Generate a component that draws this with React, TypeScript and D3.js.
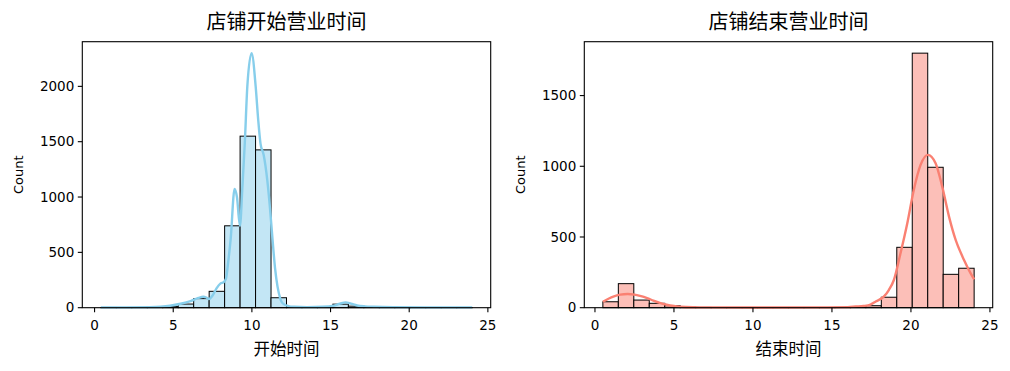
import React from "react";
import * as d3 from "d3";

// histogram bins: 24 equal bins from the data min to the data max
const startRange = [0.4, 24];
const startCounts = [2, 1, 1, 3, 10, 33, 82, 148, 740, 1550, 1426, 90, 4, 2, 2, 32, 14, 4, 2, 1, 1, 1, 1, 2];
const endRange = [0.5, 24];
const endCounts = [42, 170, 54, 31, 14, 4, 2, 1, 1, 1, 1, 1, 1, 1, 1, 2, 4, 14, 74, 427, 1800, 993, 236, 279];

// kde curves: [hour, count]
const startKde: [number, number][] = [
  [0.4, 3], [2, 3], [3.5, 5], [4.2, 9], [4.8, 18], [5.47, 36], [6.1, 60], [6.6, 88], [6.91, 99], [7.1, 92],
  [7.27, 78], [7.5, 110], [7.75, 175], [8.01, 220], [8.2, 230], [8.35, 260], [8.5, 420], [8.65, 620], [8.9, 1073],
  [9.05, 1000], [9.24, 740], [9.4, 1100], [9.55, 1490], [9.71, 2000], [9.98, 2300], [10.24, 2000], [10.4, 1700],
  [10.55, 1480], [10.75, 1380], [10.98, 1150], [11.15, 900], [11.31, 620], [11.47, 360], [11.63, 190], [11.8, 85],
  [11.95, 40], [12.3, 15], [12.69, 8], [13.5, 5], [14.5, 8], [15.2, 18], [15.6, 36], [15.96, 48], [16.3, 36],
  [16.69, 20], [17.2, 12], [17.75, 9], [19, 5], [21, 3], [24, 3],
];
const endKde: [number, number][] = [
  [0.5, 42], [1.16, 78], [1.6, 92], [2.07, 97], [2.5, 92], [2.85, 83], [3.3, 68], [3.7, 50], [4.1, 34], [4.54, 21],
  [5.0, 12], [5.39, 7], [6.2, 3], [7.5, 2], [10, 1], [14, 2], [16, 4], [16.5, 8], [17.0, 12], [17.44, 22], [17.8, 45],
  [18.28, 78], [18.6, 125], [18.92, 196], [19.34, 385], [19.77, 597], [20.18, 833], [20.61, 1010], [21.07, 1081],
  [21.56, 1022], [21.98, 856], [22.41, 644], [22.83, 479], [23.36, 338], [23.78, 243], [24.0, 201],
];

const xTicks = [0, 5, 10, 15, 20, 25];
const startYTicks = [0, 500, 1000, 1500, 2000];
const endYTicks = [0, 500, 1000, 1500];

const CJK = "'Noto Sans CJK SC', sans-serif";
const TICK_FONT = "'DejaVu Sans', sans-serif";

type PanelProps = {
  left: number;
  title: string;
  xLabel: string;
  range: number[];
  counts: number[];
  kde: [number, number][];
  yTicks: number[];
  yMax: number;
  fill: string;
  line: string;
};

function Panel({ left, title, xLabel, range, counts, kde, yTicks, yMax, fill, line }: PanelProps) {
  const top = 41.7;
  const w = 408.4;
  const h = 266;
  const [lo, hi] = range;
  const pad = (hi - lo) * 0.05;
  const x = d3.scaleLinear().domain([lo - pad, hi + pad]).range([0, w]);
  const y = d3.scaleLinear().domain([0, yMax]).range([h, 0]);
  const binW = (hi - lo) / counts.length;
  const path = d3.line<[number, number]>()
    .x(d => x(d[0]))
    .y(d => y(d[1]))
    .curve(d3.curveMonotoneX)(kde);

  return (
    <g transform={`translate(${left},${top})`}>
      <text x={w / 2} y={-13} textAnchor="middle" fontFamily={CJK} fontSize={20} fill="#000">{title}</text>
      {counts.map((c, i) => c > 0 && (
        <rect key={i} x={x(lo + i * binW)} y={y(c)} width={x(lo + (i + 1) * binW) - x(lo + i * binW)}
          height={h - y(c)} fill={fill} stroke="#000" strokeWidth={1} />
      ))}
      <path d={path ?? ""} fill="none" stroke={line} strokeWidth={2.4} strokeLinejoin="round" />
      <rect x={0} y={0} width={w} height={h} fill="none" stroke="#000" strokeWidth={1.1} />
      {xTicks.map(t => (
        <g key={t} transform={`translate(${x(t)},${h})`}>
          <line y2={4.5} stroke="#000" strokeWidth={1.1} />
          <text y={22.5} textAnchor="middle" fontFamily={TICK_FONT} fontSize={13.5} fill="#000">{t}</text>
        </g>
      ))}
      {yTicks.map(t => (
        <g key={t} transform={`translate(0,${y(t)})`}>
          <line x2={-4.5} stroke="#000" strokeWidth={1.1} />
          <text x={-8} dy="0.35em" textAnchor="end" fontFamily={TICK_FONT} fontSize={13.5} fill="#000">{t}</text>
        </g>
      ))}
      <text x={w / 2} y={h + 47} textAnchor="middle" fontFamily={CJK} fontSize={16.5} fill="#000">{xLabel}</text>
      <text transform={`translate(-64,${h / 2}) rotate(-90)`}
        dy="0.35em" textAnchor="middle" fontFamily={TICK_FONT} fontSize={13} fill="#000">Count</text>
    </g>
  );
}

export default function App() {
  document.body.style.margin = "0";
  const startMax = Math.max(d3.max(startCounts)!, d3.max(startKde, d => d[1])!) * 1.045;
  const endMax = Math.max(d3.max(endCounts)!, d3.max(endKde, d => d[1])!) * 1.045;
  return (
    <svg width={1010} height={371} style={{ display: "block", background: "#fff" }}>
      <Panel left={82.3} title="店铺开始营业时间" xLabel="开始时间" range={startRange} counts={startCounts}
        kde={startKde} yTicks={startYTicks} yMax={startMax} fill="#c3e6f5" line="#87ceeb" />
      <Panel left={584.3} title="店铺结束营业时间" xLabel="结束时间" range={endRange} counts={endCounts}
        kde={endKde} yTicks={endYTicks} yMax={endMax} fill="#fcbfb8" line="#fa8072" />
    </svg>
  );
}
